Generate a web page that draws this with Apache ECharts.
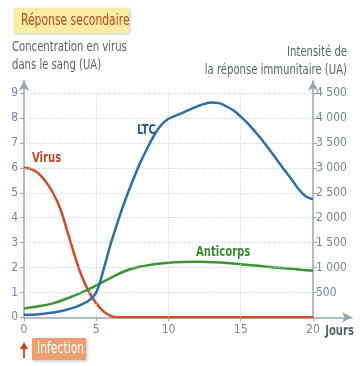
<!DOCTYPE html>
<html><head><meta charset="utf-8">
<script src="https://cdn.jsdelivr.net/npm/echarts@6/dist/echarts.min.js"></script>
<style>html,body{margin:0;padding:0;background:#fff}#c{width:360px;height:366px}</style>
</head><body><div id="c"></div>
<script>
// ---- data ----
const virusDays = [0, 0.5, 1, 1.5, 2, 2.5, 3, 3.5, 4, 4.5, 5, 5.5, 6, 6.5, 7, 20];
const virusVals = [6, 5.95, 5.78, 5.45, 5.0, 4.38, 3.45, 2.5, 1.65, 1.02, 0.56, 0.24, 0.06, 0, 0, 0];
const ltcDays = [0, 0.5, 1, 1.5, 2, 2.5, 3, 3.5, 4, 4.5, 5, 5.5, 6, 6.5, 7, 7.5, 8, 8.5, 9, 9.5, 10,
                 10.5, 11, 11.5, 12, 12.5, 13, 13.5, 14, 14.5, 15, 15.5, 16, 16.5, 17, 17.5, 18, 18.5, 19, 19.5, 20];
const ltcVals = [50, 50, 60, 75, 95, 120, 155, 200, 260, 340, 500, 950, 1475, 1925, 2350, 2725, 3075, 3375, 3650, 3860, 3985,
                 4050, 4110, 4175, 4235, 4285, 4310, 4300, 4235, 4150, 4030, 3890, 3725, 3550, 3360, 3165, 2965, 2775, 2575, 2430, 2370];
const antiDays = [0, 1, 2, 3, 4, 5, 6, 7, 8, 9, 10, 11, 12, 13, 14, 15, 16, 17, 18, 19, 20];
const antiVals = [175, 220, 280, 380, 500, 640, 790, 930, 1015, 1065, 1095, 1110, 1115, 1105, 1090, 1065, 1040, 1010, 985, 960, 935];
const xTicks = [0, 5, 10, 15, 20];
const yLeftTicks = [0, 1, 2, 3, 4, 5, 6, 7, 8, 9];
const yRightTicks = [500, 1000, 1500, 2000, 2500, 3000, 3500, 4000, 4500];
const gridX = [5, 10, 15];
const gridY = [1, 2, 3, 4, 5, 6, 7, 8, 9];

const FONT = '"Liberation Sans Narrow","DejaVu Sans Condensed","Roboto Condensed","Liberation Sans",sans-serif';
const AX = '#97a6b6';
const TXT = '#56626f';
const SX = 0.8;
const pairs = (xs, ys) => xs.map((x, i) => [x, ys[i]]);

const gridLines = [];
gridY.forEach(y => gridLines.push([{coord: [0, y]}, {coord: [20, y]}]));
gridX.forEach(x => gridLines.push([{coord: [x, 0]}, {coord: [x, 9]}]));

function label(x, y, text, fill, size, align, weight) {
  return {type: 'text', x: x, y: y, scaleX: SX, z: 10,
    style: {text: text, fill: fill, font: (weight || 'normal') + ' ' + size + 'px ' + FONT, align: align || 'left', verticalAlign: 'middle'}};
}

const chart = echarts.init(document.getElementById('c'), null, {renderer: 'canvas'});
chart.setOption({
  animation: false,
  backgroundColor: '#ffffff',
  grid: {left: 24, right: 8, top: 80.7, bottom: 48.7, containLabel: false},
  xAxis: {
    type: 'value', min: 0, max: 22.7,
    axisLine: {lineStyle: {color: AX, width: 1.5}, symbol: ['none', 'arrow'], symbolSize: [8, 10]},
    axisTick: {customValues: xTicks, length: 4, lineStyle: {color: AX}},
    axisLabel: {customValues: xTicks, color: '#76849a', fontFamily: FONT, fontSize: 12, margin: 7},
    splitLine: {show: false}
  },
  yAxis: [{
    type: 'value', min: 0, max: 9.5, position: 'left',
    axisLine: {show: true, lineStyle: {color: AX, width: 1.5}, symbol: ['none', 'arrow'], symbolSize: [8, 10]},
    axisTick: {show: true, customValues: yLeftTicks, length: 4, lineStyle: {color: AX}},
    axisLabel: {customValues: yLeftTicks, color: '#76849a', fontFamily: FONT, fontSize: 12, margin: 6},
    splitLine: {show: false}
  }, {
    type: 'value', min: 0, max: 4750, position: 'right', offset: -39,
    axisLine: {show: true, onZero: false, lineStyle: {color: AX, width: 1.5}, symbol: ['none', 'arrow'], symbolSize: [8, 10]},
    axisTick: {show: true, customValues: yRightTicks, length: 4, lineStyle: {color: AX}},
    axisLabel: {customValues: yRightTicks, color: '#76849a', fontFamily: FONT, fontSize: 12, margin: 3,
      formatter: v => v >= 1000 ? Math.floor(v / 1000) + ' ' + String(v % 1000).padStart(3, '0') : String(v)},
    splitLine: {show: false}
  }],
  series: [{
    type: 'line', data: [], z: 1, silent: true,
    markLine: {silent: true, symbol: ['none', 'none'], label: {show: false},
      lineStyle: {color: '#c3cdd8', type: [1, 1.5], width: 1}, data: gridLines}
  }, {
    name: 'Virus', type: 'line', yAxisIndex: 0, z: 3, smooth: 0.4, showSymbol: false,
    lineStyle: {color: '#d24a27', width: 2.5}, data: pairs(virusDays, virusVals)
  }, {
    name: 'Anticorps', type: 'line', yAxisIndex: 1, z: 4, smooth: 0.4, showSymbol: false,
    lineStyle: {color: '#3a9436', width: 2.5}, data: pairs(antiDays, antiVals)
  }, {
    name: 'LTC', type: 'line', yAxisIndex: 1, z: 5, smooth: 0.4, showSymbol: false,
    lineStyle: {color: '#2e6ea8', width: 2.5}, data: pairs(ltcDays, ltcVals)
  }],
  graphic: [
    {type: 'rect', shape: {x: 14, y: 8, width: 115, height: 25}, style: {fill: '#fbeca4', shadowBlur: 3, shadowColor: 'rgba(0,0,0,0.25)', shadowOffsetX: 1, shadowOffsetY: 1}},
    label(21, 21, 'Réponse secondaire', '#b8471f', 15),
    label(12, 47, 'Concentration en virus', TXT, 14),
    label(12, 65, 'dans le sang (UA)', TXT, 14),
    label(347, 52, 'Intensité de', TXT, 14, 'right'),
    label(347, 70, 'la réponse immunitaire (UA)', TXT, 14, 'right'),
    label(32, 158, 'Virus', '#c94524', 14, 'left', 'bold'),
    label(137, 130, 'LTC', '#2a5f98', 14, 'left', 'bold'),
    label(196, 252, 'Anticorps', '#3a8a30', 14, 'left', 'bold'),
    label(354, 331, 'Jours', TXT, 14, 'right', 'bold'),
    {type: 'rect', shape: {x: 32, y: 338, width: 54, height: 22}, style: {fill: '#ee9f72', shadowBlur: 3, shadowColor: 'rgba(0,0,0,0.25)', shadowOffsetX: 1, shadowOffsetY: 1}},
    label(37, 349, 'Infection', '#ffffff', 15),
    {type: 'line', shape: {x1: 24, y1: 348, x2: 24, y2: 358}, style: {stroke: '#c9401f', lineWidth: 1.8}},
    {type: 'polygon', shape: {points: [[20, 349], [28, 349], [24, 342]]}, style: {fill: '#c9401f'}}
  ]
});
</script></body></html>
